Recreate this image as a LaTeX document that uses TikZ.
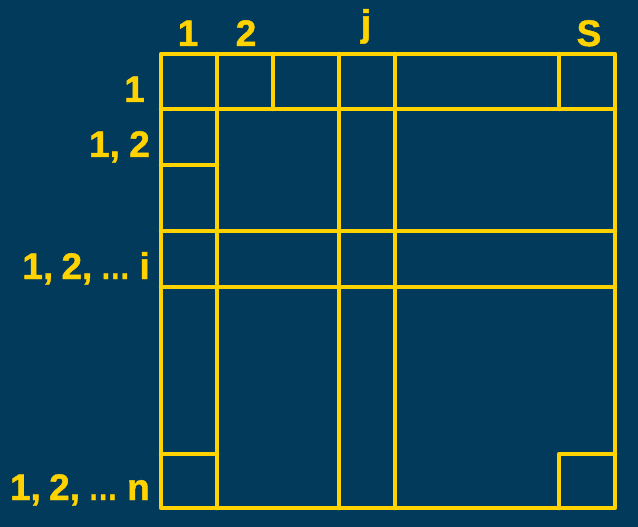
\documentclass[tikz,border=0pt]{standalone}
\usepackage{fontspec}
\setmainfont{Liberation Sans}[BoldFeatures={FakeBold=1.2}]
\definecolor{bgblue}{RGB}{1,58,90}
\definecolor{gold}{RGB}{255,210,0}
\newcommand{\myellip}{\scalebox{0.8}[1]{…}}
\begin{document}
\begin{tikzpicture}[x=1pt,y=-1pt,
  grid/.style={draw=gold,line width=4.5pt,line join=round,line cap=round},
  lab/.style={text=gold,font=\fontsize{37}{40}\selectfont\bfseries,inner sep=0pt}]
\fill[bgblue] (0,0) rectangle (638,527);
\useasboundingbox (0,0) rectangle (638,527);
% outer
\draw[grid] (161,54) rectangle (615,508);
% full verticals
\foreach \x in {217,339,395} \draw[grid] (\x,54) -- (\x,508);
% first-row verticals
\foreach \x in {273,559} \draw[grid] (\x,54) -- (\x,109);
% full horizontals
\foreach \y in {109,231,287} \draw[grid] (161,\y) -- (615,\y);
% short pieces
\draw[grid] (161,165) -- (217,165);
\draw[grid] (161,454) -- (217,454);
\draw[grid] (559,508) -- (559,454) -- (615,454);
% top labels
\node[lab,anchor=base] (t1) at (188,46) {1};
\node[lab,anchor=base] (t2) at (246,46) {2};
\node[lab,anchor=base] (tj) at (366,36) {j};
\node[lab,anchor=base] (ts) at (589,46) {S};
% left labels
\node[lab,anchor=base east] (l1) at (145,102) {1};
\node[lab,anchor=base east] (l2) at (150,157) {1,\kern-1pt{} 2};
\node[lab,anchor=base east] (li) at (150,279) {1,\kern-2pt{} 2,\kern-2pt{} \myellip\kern-1pt{} i};
\node[lab,anchor=base east] (ln) at (150,500) {1,\kern-2pt{} 2,\kern-2pt{} \myellip\kern-1pt{} n};
\end{tikzpicture}
\end{document}
